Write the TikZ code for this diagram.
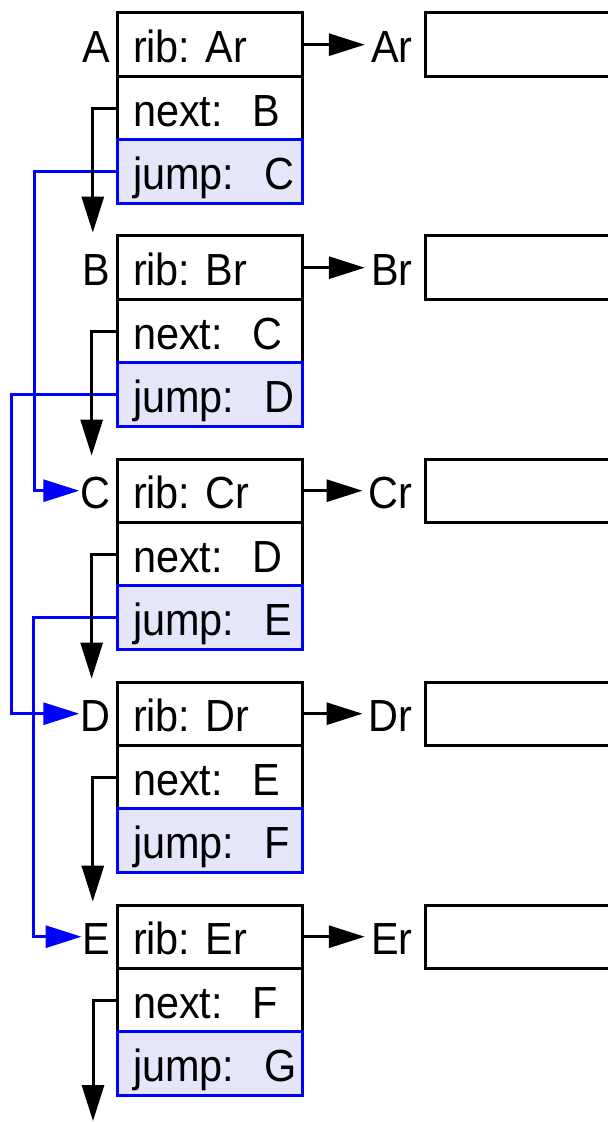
\documentclass[tikz,border=0pt]{standalone}
\usepackage{fontspec}
\setmainfont{Liberation Sans}[FakeStretch=0.92]
\usetikzlibrary{arrows.meta,positioning}
\definecolor{jumpfill}{RGB}{230,230,250}
\frenchspacing

\begin{document}
\begin{tikzpicture}[x=0.5pt,y=-0.5pt,
    every node/.style={font=\fontsize{22.5pt}{27pt}\selectfont},
    slot/.style={draw=black,line width=1.5pt,minimum width=92.5pt,minimum height=31.7pt,
      text width=76.5pt,inner xsep=8pt,inner ysep=0pt,align=left,text height=18pt,text depth=0pt},
    jumpslot/.style={slot,draw=blue,fill=jumpfill},
    tag/.style={anchor=east,minimum height=31.7pt,inner xsep=0.5pt,inner ysep=0pt,text height=18pt,text depth=0pt},
    val/.style={anchor=east,inner xsep=3pt,inner ysep=0pt,text height=18pt,text depth=0pt},
    store/.style={anchor=west,draw=black,line width=1.5pt,minimum width=150pt,minimum height=31.7pt},
    ptr/.style={line width=1.5pt,-{Triangle[length=18pt,width=11pt]}},
    jumpptr/.style={ptr,blue}]
      \useasboundingbox (0,0) rectangle (608,1122);
      \clip (0,0) rectangle (608,1122);

      % record A
      \node[slot] (A1) at (209.5,44.7) {rib: Ar};
      \node[slot] (A2) at (209.5,108.1) {next:~~B};
      \node[jumpslot] (A3) at (209.5,171.5) {jump:~~C};
      \node[tag] (A) at (112,44.7) {A};
      \node[val] (Ar) at (419,44.7) {Ar};
      \node[store] (Abox) at (424,44.7) {};

      % record B
      \node[slot] (B1) at (209.5,267.7) {rib: Br};
      \node[slot] (B2) at (209.5,331.1) {next:~~C};
      \node[jumpslot] (B3) at (209.5,394.5) {jump:~~D};
      \node[tag] (B) at (112,267.7) {B};
      \node[val] (Br) at (419,267.7) {Br};
      \node[store] (Bbox) at (424,267.7) {};

      % record C
      \node[slot] (C1) at (209.5,490.7) {rib: Cr};
      \node[slot] (C2) at (209.5,554.1) {next:~~D};
      \node[jumpslot] (C3) at (209.5,617.5) {jump:~~E};
      \node[tag] (C) at (112,490.7) {C};
      \node[val] (Cr) at (419,490.7) {Cr};
      \node[store] (Cbox) at (424,490.7) {};

      % record D
      \node[slot] (D1) at (209.5,713.7) {rib: Dr};
      \node[slot] (D2) at (209.5,777.1) {next:~~E};
      \node[jumpslot] (D3) at (209.5,840.5) {jump:~~F};
      \node[tag] (D) at (112,713.7) {D};
      \node[val] (Dr) at (419,713.7) {Dr};
      \node[store] (Dbox) at (424,713.7) {};

      % record E
      \node[slot] (E1) at (209.5,936.7) {rib: Er};
      \node[slot] (E2) at (209.5,1000.1) {next:~~F};
      \node[jumpslot] (E3) at (209.5,1063.5) {jump:~~G};
      \node[tag] (E) at (112,936.7) {E};
      \node[val] (Er) at (419,936.7) {Er};
      \node[store] (Ebox) at (424,936.7) {};
      \coordinate (F) at (93,1121);

      % jump pointers
      \draw[jumpptr] (A3.west) -- ++(-81,0) |- (C.west);
      \draw[jumpptr] (B3.west) -- ++(-104,0) |- (D.west);
      \draw[jumpptr] (C3.west) -- ++(-82,0) |- (E.west);

      % next pointers
      \draw[ptr] (A2.west) -| ([xshift=-2pt,yshift=1.5pt]B.north);
      \draw[ptr] (B2.west) -| ([xshift=-2pt,yshift=1.5pt]C.north);
      \draw[ptr] (C2.west) -| ([xshift=-2pt,yshift=1.5pt]D.north);
      \draw[ptr] (D2.west) -| ([xshift=-2pt,yshift=1.5pt]E.north);
      \draw[ptr] (E2.west) -| (F);

      % rib pointers
      \draw[ptr] (A1.east) -- (Ar.west);
      \draw[ptr] (B1.east) -- (Br.west);
      \draw[ptr] (C1.east) -- (Cr.west);
      \draw[ptr] (D1.east) -- (Dr.west);
      \draw[ptr] (E1.east) -- (Er.west);

\end{tikzpicture}
\end{document}
